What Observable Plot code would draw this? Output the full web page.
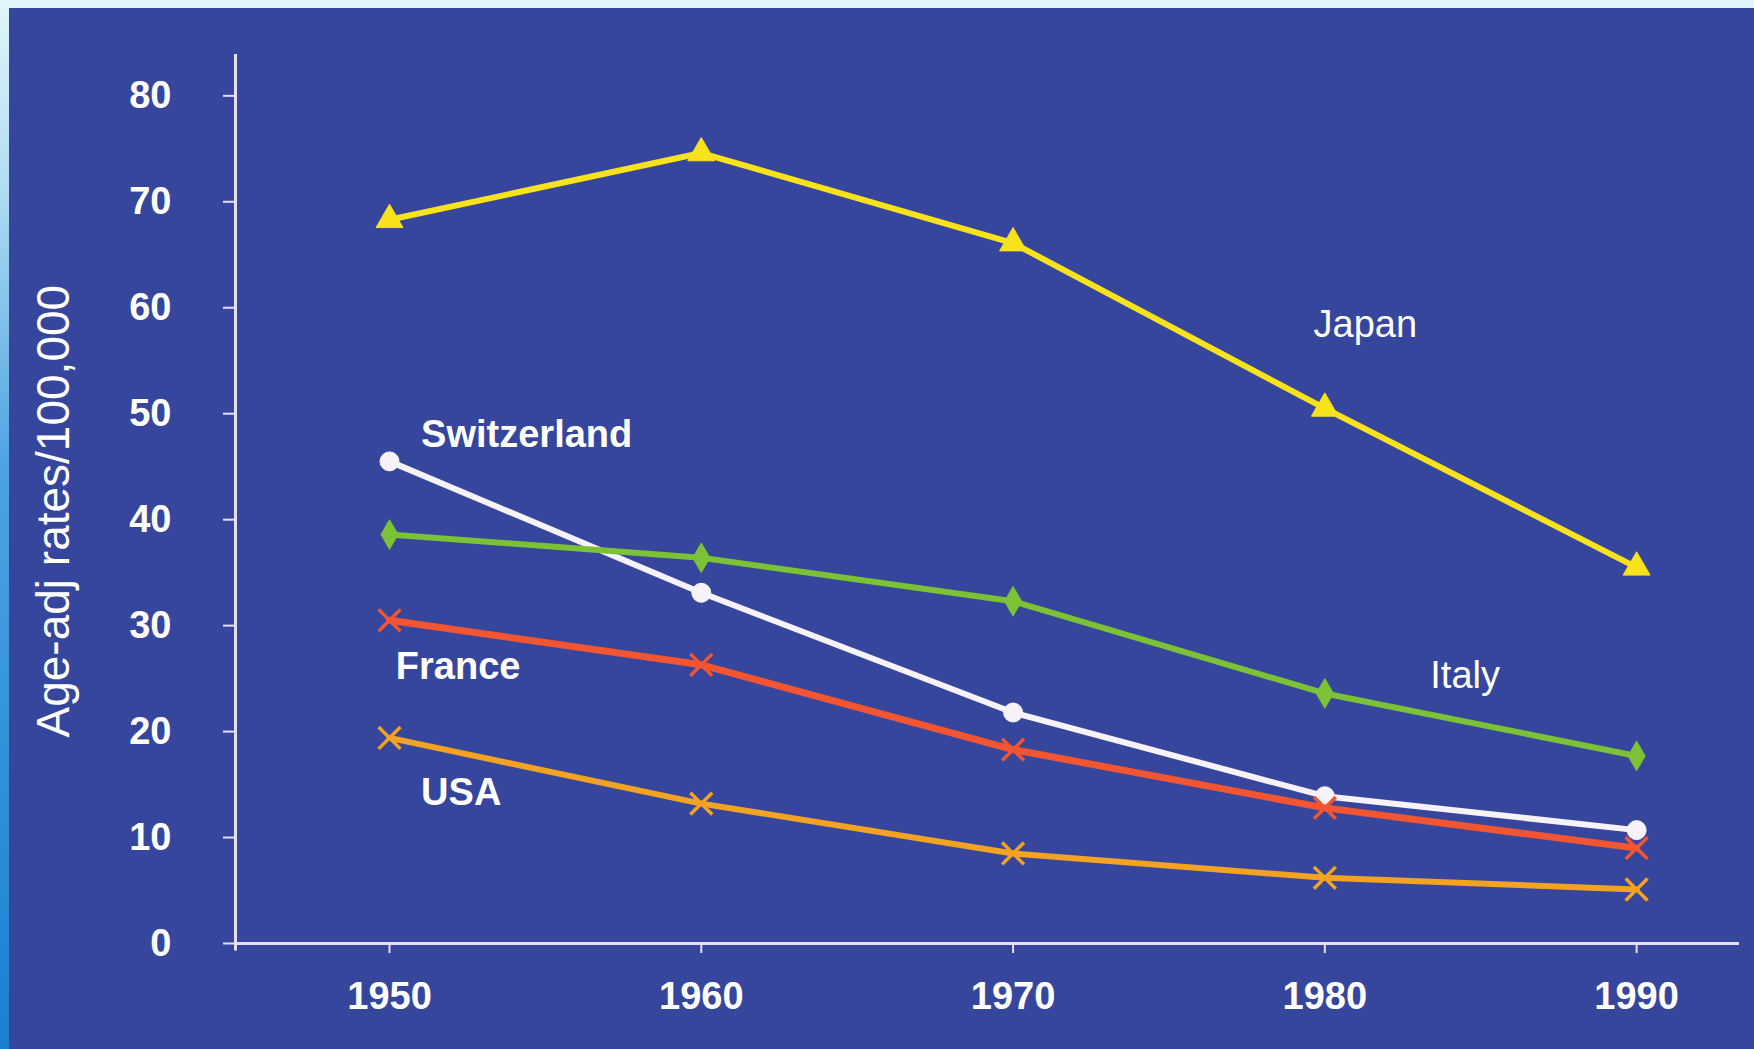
<!DOCTYPE html>
<html><head><meta charset="utf-8">
<script src="https://cdn.jsdelivr.net/npm/d3@7"></script>
<script src="https://cdn.jsdelivr.net/npm/@observablehq/plot@0.6"></script>
<style>
html,body{margin:0;padding:0;background:#36469c;}
#wrap{position:relative;width:1754px;height:1049px;overflow:hidden;background:#36469c;}
#top{position:absolute;left:0;top:0;width:1754px;height:8px;background:#e2f5fa;z-index:2;}
#left{position:absolute;left:0;top:0;width:9px;height:1049px;z-index:2;background:linear-gradient(#e2f5fa 0%, #b0dcf2 18%, #4aa2e2 45%, #1c80d0 100%);}
#chart{position:absolute;left:0;top:0;}
</style></head><body>
<div id="wrap"><div id="top"></div><div id="left"></div><div id="chart"></div></div>
<script>
// ---- data ----
const years = [1950, 1960, 1970, 1980, 1990];
const countries = ["Japan", "Switzerland", "Italy", "France", "USA"];
const japan = [68.3, 74.6, 66.1, 50.5, 35.5];
const switzerland = [45.5, 33.1, 21.8, 13.9, 10.7];
const italy = [38.6, 36.4, 32.3, 23.6, 17.7];
const france = [30.5, 26.3, 18.3, 12.8, 9.0];
const usa = [19.4, 13.2, 8.5, 6.2, 5.1];
const yTicks = [0, 10, 20, 30, 40, 50, 60, 70, 80];
const yTitle = "Age-adj rates/100,000";
// label anchor positions in data units (year, rate)
const labelNames = ["Japan", "Switzerland", "Italy", "France", "USA"];
const labelYears = [1981.3, 1954.4, 1984.5, 1952.2, 1952.3];
const labelValues = [58.4, 48.0, 25.3, 26.1, 14.2];

// ---- styles ----
const colors = {Japan: "#f8e21c", Switzerland: "#f6f2f8", Italy: "#7cc236", France: "#f25532", USA: "#f3a222"};
const symbols = {Japan: "triangle", Switzerland: "circle", Italy: "diamond", France: "times", USA: "times"};
const bold = {Japan: "normal", Switzerland: "bold", Italy: "normal", France: "bold", USA: "bold"};
const axisColor = "#e6def4";

const seriesValues = {Japan: japan, Switzerland: switzerland, Italy: italy, France: france, USA: usa};
const rows = countries.flatMap(c => years.map((yr, i) => ({country: c, year: yr, value: seriesValues[c][i]})));
const labels = labelNames.map((n, i) => ({name: n, year: labelYears[i], value: labelValues[i]}));

const xMin = 1945.06, xMax = 1993.3, yMax = 83.9;

const marks = [
  Plot.ruleY([0], {stroke: axisColor, strokeWidth: 3}),
  Plot.ruleX([xMin], {y1: -0.7, y2: yMax, stroke: axisColor, strokeWidth: 3}),
  Plot.axisX({ticks: years, tickFormat: d => String(d), tickSize: 10, tickPadding: 29, stroke: axisColor, strokeWidth: 2, fill: "white", label: null, fontSize: 38, fontWeight: "bold"}),
  Plot.axisY({ticks: yTicks, tickSize: 12, tickPadding: 52, stroke: axisColor, strokeWidth: 2, fill: "white", label: null, fontSize: 38, fontWeight: "bold"}),
];
for (const c of countries) {
  const data = rows.filter(d => d.country === c);
  marks.push(Plot.line(data, {x: "year", y: "value", stroke: colors[c], strokeWidth: c === "France" ? 7 : 6, strokeLinejoin: "round", strokeLinecap: "round"}));
  const stroked = symbols[c] === "times";
  marks.push(Plot.dot(data, {x: "year", y: "value", symbol: symbols[c],
    r: stroked ? 10 : (c === "Japan" ? 10 : (c === "Switzerland" ? 9.5 : 9)),
    fill: stroked ? "none" : colors[c], stroke: colors[c], strokeWidth: stroked ? 3.5 : 1}));
}
for (const l of labels) {
  marks.push(Plot.text([l], {x: "year", y: "value", text: "name", fill: "white", fontSize: 38, fontWeight: bold[l.name], textAnchor: "middle"}));
}
marks.push(Plot.text([yTitle], {frameAnchor: "left", y: [40.8], text: d => d, rotate: -90, textAnchor: "middle", dx: -181, fill: "white", fontSize: 46, fontWeight: "normal"}));

const chart = Plot.plot({
  width: 1754, height: 1049,
  marginLeft: 235, marginRight: 15, marginTop: 54, marginBottom: 106,
  x: {domain: [xMin, xMax]},
  y: {domain: [0, yMax]},
  style: {background: "transparent", color: "white", fontFamily: "'Liberation Sans', Arial, sans-serif", fontSize: "38px"},
  marks
});
document.getElementById("chart").appendChild(chart);
</script>
</body></html>
